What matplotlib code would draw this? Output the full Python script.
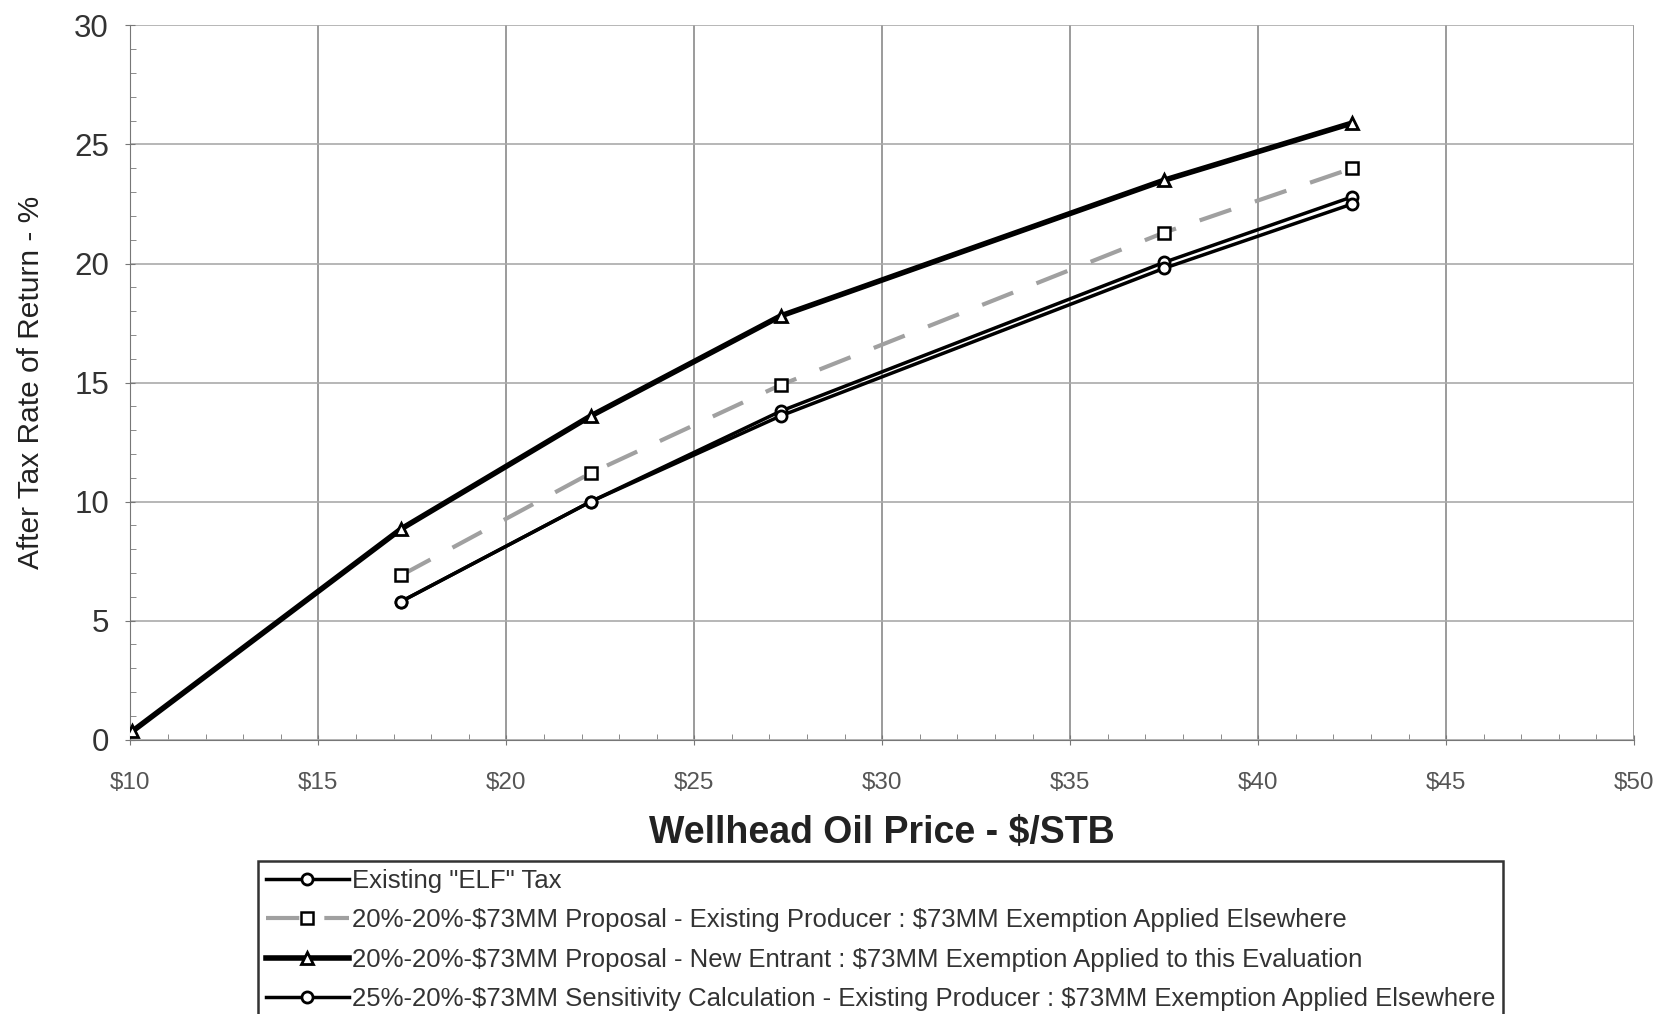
import matplotlib.pyplot as plt
from matplotlib.ticker import MultipleLocator, FuncFormatter

plt.rcParams['font.family'] = ['Liberation Sans', 'DejaVu Sans']
plt.rcParams['text.parse_math'] = False

# price points ($/STB)
price = [17.2, 22.25, 27.3, 37.5, 42.5]
price_new = [10.05, 17.2, 22.25, 27.3, 37.5, 42.5]

# after tax rate of return, %
elf = [5.8, 10.0, 13.8, 20.05, 22.8]
prop_existing = [6.9, 11.2, 14.9, 21.3, 24.0]
prop_new = [0.35, 8.85, 13.6, 17.8, 23.5, 25.9]
sens_existing = [5.8, 10.0, 13.6, 19.8, 22.5]

labels = [
    'Existing "ELF" Tax',
    '20%-20%-$73MM Proposal - Existing Producer : $73MM Exemption Applied Elsewhere',
    '20%-20%-$73MM Proposal - New Entrant : $73MM Exemption Applied to this Evaluation',
    '25%-20%-$73MM Sensitivity Calculation - Existing Producer : $73MM Exemption Applied Elsewhere',
]

fig = plt.figure(figsize=(16.64, 10.14), dpi=100)
ax = fig.add_axes([0.0784, 0.2706, 0.9036, 0.7043])

ax.plot(price, elf, color='black', lw=2.5, marker='o', ms=8,
        mfc='white', mec='black', mew=2, label=labels[0], zorder=4)
ax.plot(price, prop_existing, color='#a0a0a0', lw=3, ls=(0, (8, 6)), marker='s', ms=8,
        mfc='white', mec='black', mew=1.8, label=labels[1], zorder=3)
ax.plot(price_new, prop_new, color='black', lw=4, marker='^', ms=9,
        mfc='white', mec='black', mew=2, label=labels[2], zorder=5)
ax.plot(price, sens_existing, color='black', lw=2.5, marker='o', ms=8,
        mfc='white', mec='black', mew=2, label=labels[3], zorder=4)

ax.set_xlim(10, 50)
ax.set_ylim(0, 30)
ax.xaxis.set_major_locator(MultipleLocator(5))
ax.xaxis.set_minor_locator(MultipleLocator(1))
ax.yaxis.set_major_locator(MultipleLocator(5))
ax.yaxis.set_minor_locator(MultipleLocator(1))
ax.xaxis.set_major_formatter(FuncFormatter(lambda v, p: f'${v:.0f}'))

ax.grid(True, which='major', axis='x', color='#8a8a8a', lw=1.2)
ax.grid(True, which='major', axis='y', color='#aaaaaa', lw=1.2)
ax.set_axisbelow(True)
for s in ['top', 'right']:
    ax.spines[s].set_visible(False)
for s in ['left', 'bottom']:
    ax.spines[s].set_color('#777777')
ax.tick_params(which='major', direction='inout', length=7, color='#777777')
ax.tick_params(which='minor', direction='in', length=4, color='#777777')
ax.tick_params(axis='x', labelsize=17.5, labelcolor='#555555', pad=20)
ax.tick_params(axis='y', labelsize=22.5, labelcolor='#333333', pad=12)

ax.set_xlabel('Wellhead Oil Price - $/STB', fontsize=27, fontweight='bold',
              color='#222222', labelpad=15)
ax.set_ylabel('After Tax Rate of Return - %', fontsize=21.5, color='#222222', labelpad=21)

leg = fig.legend(loc='upper left', bbox_to_anchor=(258 / 1664, 1 - 861 / 1014),
                 borderaxespad=0, fontsize=18.5, frameon=True, fancybox=False,
                 edgecolor='black', handlelength=3.25, handletextpad=0.1,
                 labelspacing=0.6, borderpad=0.3)
leg.get_frame().set_linewidth(1.8)
for t in leg.get_texts():
    t.set_color('#333333')

fig.savefig('out.png', dpi=100)
